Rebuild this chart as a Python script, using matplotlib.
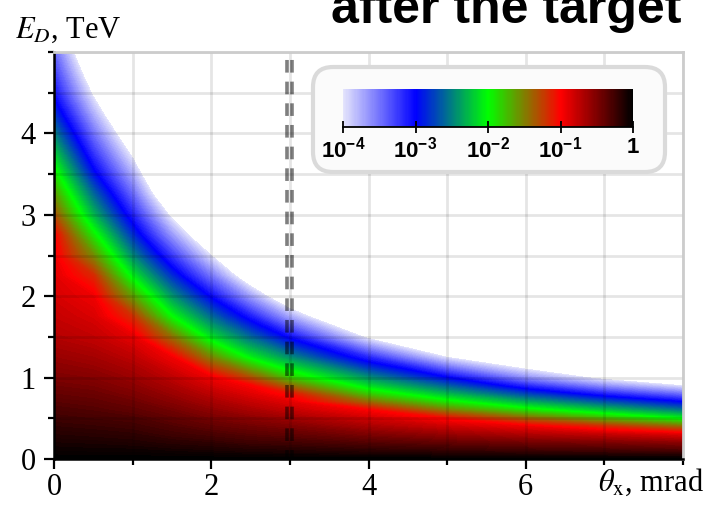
import numpy as np
import matplotlib
matplotlib.use("Agg")
import matplotlib.pyplot as plt
from matplotlib.colors import LinearSegmentedColormap, LogNorm
from matplotlib.cm import ScalarMappable
from matplotlib.patches import FancyBboxPatch
from matplotlib.ticker import MultipleLocator, NullLocator

# grid of the map: angle (mrad) and energy (TeV)
theta = [0, 0.5, 1, 1.5, 2, 2.5, 3, 4, 5, 6, 7, 8]
energy = [0, 0.1, 0.2, 0.3, 0.4, 0.5, 0.6, 0.7, 0.8, 0.9, 1.0,
          1.25, 1.5, 1.75, 2.0, 2.25, 2.5, 2.75, 3.0, 3.25, 3.5,
          3.75, 4.0, 4.25, 4.5, 4.75, 5.0]

# log10 of the normalised density, one row per energy value
log_density = [
    [0, 0, 0, 0, 0, 0, 0, 0, 0, 0, 0, 0],
    [-0.05, -0.06, -0.06, -0.08, -0.10, -0.13, -0.14, -0.18, -0.21, -0.25, -0.27, -0.30],
    [-0.10, -0.11, -0.13, -0.17, -0.20, -0.25, -0.27, -0.34, -0.40, -0.46, -0.50, -0.56],
    [-0.15, -0.17, -0.19, -0.25, -0.30, -0.35, -0.39, -0.50, -0.60, -0.70, -0.78, -0.89],
    [-0.20, -0.22, -0.25, -0.32, -0.39, -0.45, -0.50, -0.67, -0.81, -0.95, -1.17, -1.44],
    [-0.25, -0.28, -0.31, -0.39, -0.48, -0.56, -0.64, -0.83, -1.05, -1.40, -1.72, -2.05],
    [-0.30, -0.33, -0.38, -0.46, -0.57, -0.67, -0.78, -1.00, -1.50, -1.90, -2.23, -2.55],
    [-0.35, -0.38, -0.44, -0.54, -0.66, -0.78, -0.90, -1.42, -1.92, -2.33, -2.68, -3.00],
    [-0.40, -0.43, -0.50, -0.61, -0.75, -0.89, -1.07, -1.81, -2.29, -2.75, -3.15, -3.50],
    [-0.45, -0.48, -0.56, -0.68, -0.85, -1.00, -1.43, -2.15, -2.64, -3.18, -3.65, -4.00],
    [-0.50, -0.53, -0.61, -0.75, -0.95, -1.31, -1.79, -2.44, -3.00, -3.64, -4.10, -4.40],
    [-0.60, -0.65, -0.75, -0.96, -1.53, -2.07, -2.45, -3.18, -4.00, -4.50, -4.80, -5.00],
    [-0.71, -0.77, -0.91, -1.45, -2.13, -2.60, -3.06, -4.07, -4.70, -5.00, -5.00, -5.00],
    [-0.78, -0.86, -1.19, -2.00, -2.59, -3.12, -3.74, -4.80, -5.00, -5.00, -5.00, -5.00],
    [-0.84, -0.95, -1.64, -2.42, -3.04, -3.71, -4.40, -5.00, -5.00, -5.00, -5.00, -5.00],
    [-0.89, -1.16, -2.08, -2.83, -3.52, -4.30, -4.90, -5.00, -5.00, -5.00, -5.00, -5.00],
    [-0.95, -1.55, -2.47, -3.25, -4.00, -4.80, -5.00, -5.00, -5.00, -5.00, -5.00, -5.00],
    [-1.00, -1.92, -2.82, -3.67, -4.45, -5.00, -5.00, -5.00, -5.00, -5.00, -5.00, -5.00],
    [-1.31, -2.29, -3.15, -4.08, -4.85, -5.00, -5.00, -5.00, -5.00, -5.00, -5.00, -5.00],
    [-1.61, -2.59, -3.46, -4.50, -5.00, -5.00, -5.00, -5.00, -5.00, -5.00, -5.00, -5.00],
    [-1.89, -2.93, -3.76, -4.85, -5.00, -5.00, -5.00, -5.00, -5.00, -5.00, -5.00, -5.00],
    [-2.19, -3.22, -4.06, -5.00, -5.00, -5.00, -5.00, -5.00, -5.00, -5.00, -5.00, -5.00],
    [-2.50, -3.50, -4.36, -5.00, -5.00, -5.00, -5.00, -5.00, -5.00, -5.00, -5.00, -5.00],
    [-2.81, -3.78, -4.66, -5.00, -5.00, -5.00, -5.00, -5.00, -5.00, -5.00, -5.00, -5.00],
    [-3.08, -4.05, -4.95, -5.00, -5.00, -5.00, -5.00, -5.00, -5.00, -5.00, -5.00, -5.00],
    [-3.27, -4.30, -5.00, -5.00, -5.00, -5.00, -5.00, -5.00, -5.00, -5.00, -5.00, -5.00],
    [-3.46, -4.55, -5.00, -5.00, -5.00, -5.00, -5.00, -5.00, -5.00, -5.00, -5.00, -5.00],
]

cut_lines = [2.96, 3.03]
cbar_ticks = [1e-4, 1e-3, 1e-2, 1e-1, 1]
cbar_labels = [r"$\mathbf{10^{-4}}$", r"$\mathbf{10^{-3}}$", r"$\mathbf{10^{-2}}$",
               r"$\mathbf{10^{-1}}$", "1"]

plt.rcParams["font.family"] = "Liberation Serif"
plt.rcParams["mathtext.fontset"] = "custom"
plt.rcParams["mathtext.rm"] = "Liberation Sans:bold"
plt.rcParams["mathtext.bf"] = "Liberation Sans:bold"
plt.rcParams["mathtext.it"] = "Liberation Sans:italic:bold"

cmap = LinearSegmentedColormap.from_list(
    "wbgrk", ["#e4e4fc", "#0000ff", "#00ff00", "#ff0000", "#000000"])

fig = plt.figure(figsize=(7.12, 5.05), dpi=100)
ax = fig.add_axes([54 / 712, 1 - 459 / 505, 629 / 712, 407 / 505])

ax.contourf(theta, energy, np.array(log_density), levels=np.linspace(-4, 0, 161),
            cmap=cmap, vmin=-4, vmax=0, antialiased=False, zorder=1)

for x in cut_lines:
    ax.axvline(x, color="k", alpha=0.5, lw=2.6, linestyle=(1, (3.5, 2.5)), zorder=3)

ax.set_xlim(0, 8)
ax.set_ylim(0, 5)
ax.set_xticks([0, 2, 4, 6])
ax.xaxis.set_minor_locator(MultipleLocator(1))
ax.set_yticks([0, 1, 2, 3, 4])
ax.yaxis.set_minor_locator(MultipleLocator(0.5))
ax.grid(which="both", color="k", alpha=0.1, lw=2)
ax.tick_params(which="major", length=7, width=1.6, labelsize=22, pad=3)
ax.tick_params(which="minor", length=4, width=1.6)
ax.tick_params(axis="y", which="major", pad=6)
for s in ["left", "bottom"]:
    ax.spines[s].set_linewidth(1.8)
    ax.spines[s].set_color("k")
for s in ["top", "right"]:
    ax.spines[s].set_linewidth(2)
    ax.spines[s].set_color("#cccccc")

fig.text(15 / 712, 1 - 38 / 505, r"$E_D$, TeV", fontsize=22, math_fontfamily="stix",
         va="baseline")
fig.text(598 / 712, 1 - 491 / 505, r"$\theta_\mathrm{x}$, mrad", fontsize=22,
         math_fontfamily="stix", va="baseline")
fig.text(506 / 712, 1 - 23 / 505, "after the target", fontsize=36, fontweight="bold",
         family="Liberation Sans", ha="center", va="baseline")

# rounded box behind the colour bar
box = FancyBboxPatch((3.13, 3.33), 3.52, 1.05, boxstyle="round,pad=0,rounding_size=0.2",
                     transform=fig.dpi_scale_trans, facecolor="#fbfbfb",
                     edgecolor="#dadada", lw=3, zorder=1)
fig.add_artist(box)

cax = fig.add_axes([343 / 712, 1 - 127 / 505, 290 / 712, 38 / 505], zorder=2)
sm = ScalarMappable(norm=LogNorm(1e-4, 1), cmap=cmap)
cb = fig.colorbar(sm, cax=cax, orientation="horizontal")
cb.outline.set_visible(False)
cb.set_ticks(cbar_ticks, labels=cbar_labels)
cax.xaxis.set_minor_locator(NullLocator())
cax.tick_params(which="major", direction="inout", length=8, width=1.3, pad=3,
                labelsize=16, labelfontfamily="Liberation Sans")
for lab in cax.get_xticklabels():
    lab.set_fontweight("bold")
cax.plot([0, 1], [0, 0], transform=cax.transAxes, color="k", lw=1.3, clip_on=False)

fig.savefig("out.png", dpi=100)
